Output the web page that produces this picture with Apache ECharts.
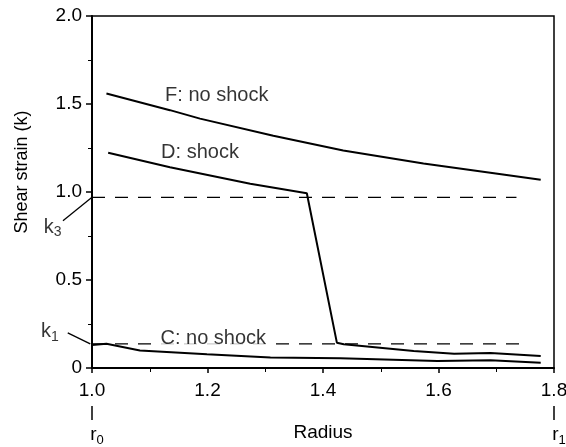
<!DOCTYPE html>
<html>
<head>
<meta charset="utf-8">
<script src="https://cdn.jsdelivr.net/npm/echarts@6/dist/echarts.min.js"></script>
<style>
  html, body { margin: 0; padding: 0; background: #fff; }
  #chart { width: 566px; height: 447px; }
</style>
</head>
<body>
<div id="chart"></div>
<script>
// curve F: no shock
var fRadius = [1.025, 1.135, 1.187, 1.314, 1.435, 1.574, 1.696, 1.777];
var fStrain = [1.56, 1.465, 1.417, 1.32, 1.236, 1.162, 1.107, 1.07];
// curve D: shock
var dRadius = [1.028, 1.135, 1.274, 1.372, 1.424, 1.436, 1.557, 1.627, 1.69, 1.777];
var dStrain = [1.223, 1.141, 1.047, 0.993, 0.144, 0.135, 0.097, 0.081, 0.085, 0.068];
// curve C: no shock
var cRadius = [1.0, 1.025, 1.083, 1.199, 1.309, 1.43, 1.598, 1.69, 1.777];
var cStrain = [0.131, 0.138, 0.10, 0.078, 0.059, 0.055, 0.04, 0.044, 0.03];
// threshold levels
var k3 = 0.97;
var k1 = 0.137;
var k3End = 1.735;
var k1End = 1.755;
// axis ticks
var xTicks = [1.0, 1.2, 1.4, 1.6, 1.8];
var yTicks = [0, 0.5, 1.0, 1.5, 2.0];

var font = "'Liberation Sans', Arial, sans-serif";
var ink = '#000';

function pairs(xs, ys) {
  return xs.map(function (x, i) { return [x, ys[i]]; });
}

var chart = echarts.init(document.getElementById('chart'));

function lineSeries(data, dashed) {
  return {
    type: 'line',
    data: data,
    symbol: 'none',
    silent: true,
    clip: false,
    z: dashed ? 2 : 3,
    lineStyle: {
      color: ink,
      width: dashed ? 1.3 : 2,
      type: dashed ? [13, 10] : 'solid'
    }
  };
}

function textSeries(x, y, rich, text) {
  return {
    type: 'scatter',
    silent: true,
    clip: false,
    symbolSize: 0,
    z: 5,
    data: [[x, y]],
    label: {
      show: true,
      position: 'inside',
      formatter: text,
      color: ink,
      fontFamily: font,
      fontSize: 20,
      backgroundColor: rich ? 'transparent' : '#fff',
      padding: [0, 3],
      rich: {
        s: { fontFamily: font, fontSize: 14, color: ink, padding: [10, 0, 0, 0] }
      }
    }
  };
}

var option = {
  animation: false,
  grid: {
    left: 92, right: 12, top: 16, bottom: 79,
    outerBoundsMode: 'none',
    containLabel: false,
    show: true,
    borderColor: ink,
    borderWidth: 1.5
  },
  xAxis: {
    type: 'value',
    min: 1.0, max: 1.8, interval: 0.2,
    name: 'Radius',
    nameLocation: 'middle',
    nameGap: 55,
    nameMoveOverlap: false,
    nameTextStyle: { fontFamily: font, fontSize: 19, color: ink },
    splitLine: { show: false },
    axisLine: { lineStyle: { color: ink, width: 2 } },
    axisTick: { length: 5, lineStyle: { color: ink, width: 1.5 } },
    minorTick: { show: true, splitNumber: 2, length: 4, lineStyle: { color: ink } },
    axisLabel: {
      margin: 12,
      color: ink,
      fontFamily: font,
      fontSize: 19,
      lineHeight: 22,
      formatter: function (v) {
        var s = v.toFixed(1);
        if (Math.abs(v - xTicks[0]) < 1e-6) return s + '\n{bar|}\n{r|r}{sub|0}';
        if (Math.abs(v - xTicks[xTicks.length - 1]) < 1e-6) return s + '\n{bar|}\n{r|r}{sub|1}';
        return s;
      },
      rich: {
        bar: { width: 1.5, height: 14, backgroundColor: ink },
        r: { fontFamily: font, fontSize: 19, color: ink, padding: [0, 0, 0, 10] },
        sub: { fontFamily: font, fontSize: 13, color: ink, padding: [10, 0, 0, 0] }
      }
    }
  },
  yAxis: {
    type: 'value',
    min: 0, max: 2.0, interval: 0.5,
    name: 'Shear strain (k)',
    nameLocation: 'middle',
    nameGap: 61,
    nameMoveOverlap: false,
    nameTextStyle: { fontFamily: font, fontSize: 18, color: ink, padding: [0, 0, 0, 40] },
    splitLine: { show: false },
    axisLine: { show: true, lineStyle: { color: ink, width: 2 } },
    axisTick: { length: 6, lineStyle: { color: ink, width: 1.5 } },
    minorTick: { show: true, splitNumber: 2, length: 4, lineStyle: { color: ink } },
    axisLabel: {
      margin: 10,
      color: ink,
      fontFamily: font,
      fontSize: 19,
      formatter: function (v) { return v === 0 ? '0' : v.toFixed(1); }
    }
  },
  series: [
    lineSeries(pairs(fRadius, fStrain), false),
    lineSeries(pairs(dRadius, dStrain), false),
    lineSeries(pairs(cRadius, cStrain), false),
    lineSeries([[1.0, k3], [k3End, k3]], true),
    lineSeries([[1.0, k1], [k1End, k1]], true),
    textSeries(1.216, 1.55, false, 'F: no shock'),
    textSeries(1.187, 1.227, false, 'D: shock'),
    textSeries(1.21, 0.165, false, 'C: no shock'),
    textSeries(0.932, 0.80, true, 'k{s|3}'),
    textSeries(0.927, 0.205, true, 'k{s|1}')
  ]
};

chart.setOption(option);

// leader lines from the k labels to the axis, placed through the axis scales
function leader(from, to) {
  var a = chart.convertToPixel({ gridIndex: 0 }, from);
  var b = chart.convertToPixel({ gridIndex: 0 }, to);
  return {
    type: 'line',
    silent: true,
    shape: { x1: a[0], y1: a[1], x2: b[0], y2: b[1] },
    style: { stroke: ink, lineWidth: 1.3 }
  };
}
chart.setOption({
  graphic: [
    leader([0.9497, 0.837], [1.0, k3]),
    leader([0.958, 0.2], [0.997, k1])
  ]
});
</script>
</body>
</html>
